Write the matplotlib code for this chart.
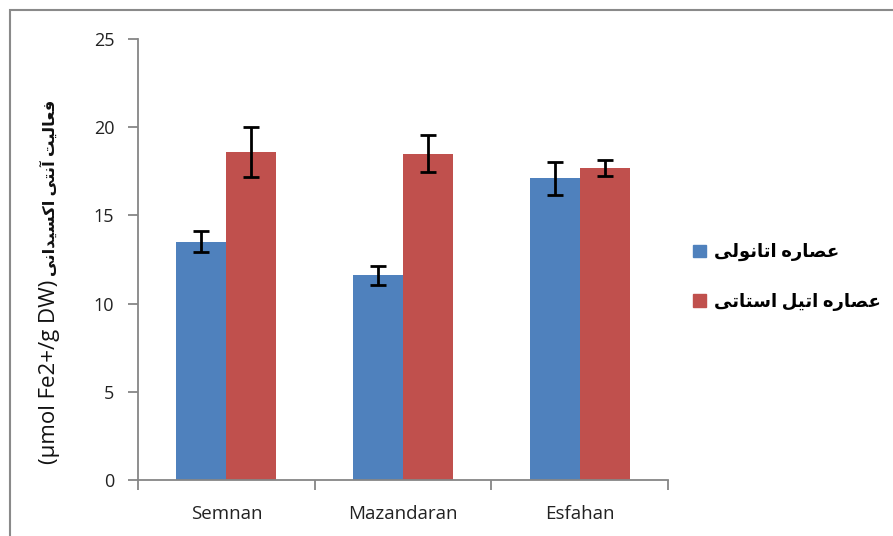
import matplotlib
matplotlib.use("Agg")
import matplotlib.pyplot as plt
from matplotlib.patches import Rectangle, Patch
import numpy as np

categories = ["Semnan", "Mazandaran", "Esfahan"]
ethanol = [13.5, 11.6, 17.1]
ethanol_err = [0.6, 0.55, 0.95]
ethyl = [18.6, 18.5, 17.7]
ethyl_err = [1.4, 1.05, 0.45]
label_ethanol = "عصاره اتانولی"
label_ethyl = "عصاره اتیل استاتی"
ylabel_fa = "فعالیت آنتی اکسیدانی"
ylabel_unit = "(µmol Fe2+/g DW)"

# tiny arabic shaper: (isolated, final, initial, medial)
FORMS = {
    'ع': (0xFEC9, 0xFECA, 0xFECB, 0xFECC),
    'ص': (0xFEB9, 0xFEBA, 0xFEBB, 0xFEBC),
    'ا': (0xFE8D, 0xFE8E, None, None),
    'آ': (0xFE81, 0xFE82, None, None),
    'ر': (0xFEAD, 0xFEAE, None, None),
    'د': (0xFEA9, 0xFEAA, None, None),
    'و': (0xFEED, 0xFEEE, None, None),
    'ه': (0xFEE9, 0xFEEA, 0xFEEB, 0xFEEC),
    'ت': (0xFE95, 0xFE96, 0xFE97, 0xFE98),
    'ن': (0xFEE5, 0xFEE6, 0xFEE7, 0xFEE8),
    'ل': (0xFEDD, 0xFEDE, 0xFEDF, 0xFEE0),
    'ی': (0xFEEF, 0xFEF0, 0xFEF3, 0xFEF4),
    'س': (0xFEB1, 0xFEB2, 0xFEB3, 0xFEB4),
    'ک': (0xFED9, 0xFEDA, 0xFEDB, 0xFEDC),
    'ف': (0xFED1, 0xFED2, 0xFED3, 0xFED4),
}
RIGHT_ONLY = set('اآردو')


def shape(text):
    out = []
    for i, ch in enumerate(text):
        if ch not in FORMS:
            out.append(ch)
            continue
        prev = text[i - 1] if i > 0 else ''
        nxt = text[i + 1] if i + 1 < len(text) else ''
        jp = prev in FORMS and prev not in RIGHT_ONLY
        jn = nxt in FORMS and ch not in RIGHT_ONLY
        iso, fin, ini, med = FORMS[ch]
        if jp and jn:
            c = med
        elif jp:
            c = fin
        elif jn:
            c = ini
        else:
            c = iso
        out.append(chr(c))
    return ''.join(out)[::-1]


fam = ['Open Sans', 'DejaVu Sans']
plt.rcParams['font.family'] = fam

blue = '#4F81BD'
red = '#C0504D'
grey = '#868686'

fig = plt.figure(figsize=(8.93, 5.36), dpi=100)
ax = fig.add_axes([138 / 893, 1 - 480 / 536, 530 / 893, 441 / 536])

x = np.arange(len(categories))
w = 0.283
ekw = dict(ecolor='black', elinewidth=2, capsize=5.5, capthick=2)
ax.bar(x - w / 2, ethanol, w, color=blue, yerr=ethanol_err, error_kw=ekw)
ax.bar(x + w / 2, ethyl, w, color=red, yerr=ethyl_err, error_kw=ekw)

ax.set_xlim(-0.5, 2.5)
ax.set_ylim(0, 25)
ax.set_yticks([0, 5, 10, 15, 20, 25])
ax.set_xticks([-0.5, 0.5, 1.5, 2.5])
ax.set_xticklabels([])
ax.set_xticks(x, minor=True)
ax.set_xticklabels(categories, minor=True, fontsize=13.5, color='#222222')
ax.tick_params(axis='x', which='major', length=7, color=grey, width=1.3)
ax.tick_params(axis='x', which='minor', length=0, pad=18)
ax.tick_params(axis='y', length=7, color=grey, width=1.3, labelsize=13,
               labelcolor='#222222', pad=10)
for s in ['top', 'right']:
    ax.spines[s].set_visible(False)
for s in ['left', 'bottom']:
    ax.spines[s].set_color(grey)
    ax.spines[s].set_linewidth(1.3)

# y label: latin unit (regular) at the bottom, persian (bold) stacked above
unit = fig.text(50 / 893, 1 - 464 / 536, ylabel_unit, rotation=90,
                ha='center', va='bottom', fontsize=16, color='#111111')
ax.annotate(shape(ylabel_fa), xy=(0.5, 1), xycoords=unit, xytext=(0, 3),
            textcoords='offset points', rotation=90, ha='center', va='bottom',
            fontsize=11.8, fontweight='bold', color='#111111')

handles = [Patch(color=blue), Patch(color=red)]
ax.legend(handles, [shape(label_ethanol), shape(label_ethyl)],
          loc='center left', bbox_to_anchor=(1 + 25 / 530, 0.46), frameon=False,
          borderaxespad=0, borderpad=0,
          handlelength=0.7, handleheight=0.7, handletextpad=0.45,
          labelspacing=1.75, prop=dict(family=fam, size=13, weight='bold'))

fig.patches.append(Rectangle((10 / 893, -0.1), 1.2, 1.1 - 10 / 536,
                             transform=fig.transFigure, fill=False,
                             edgecolor='#8a8a8a', linewidth=1.5))

fig.savefig('out.png', dpi=100)
